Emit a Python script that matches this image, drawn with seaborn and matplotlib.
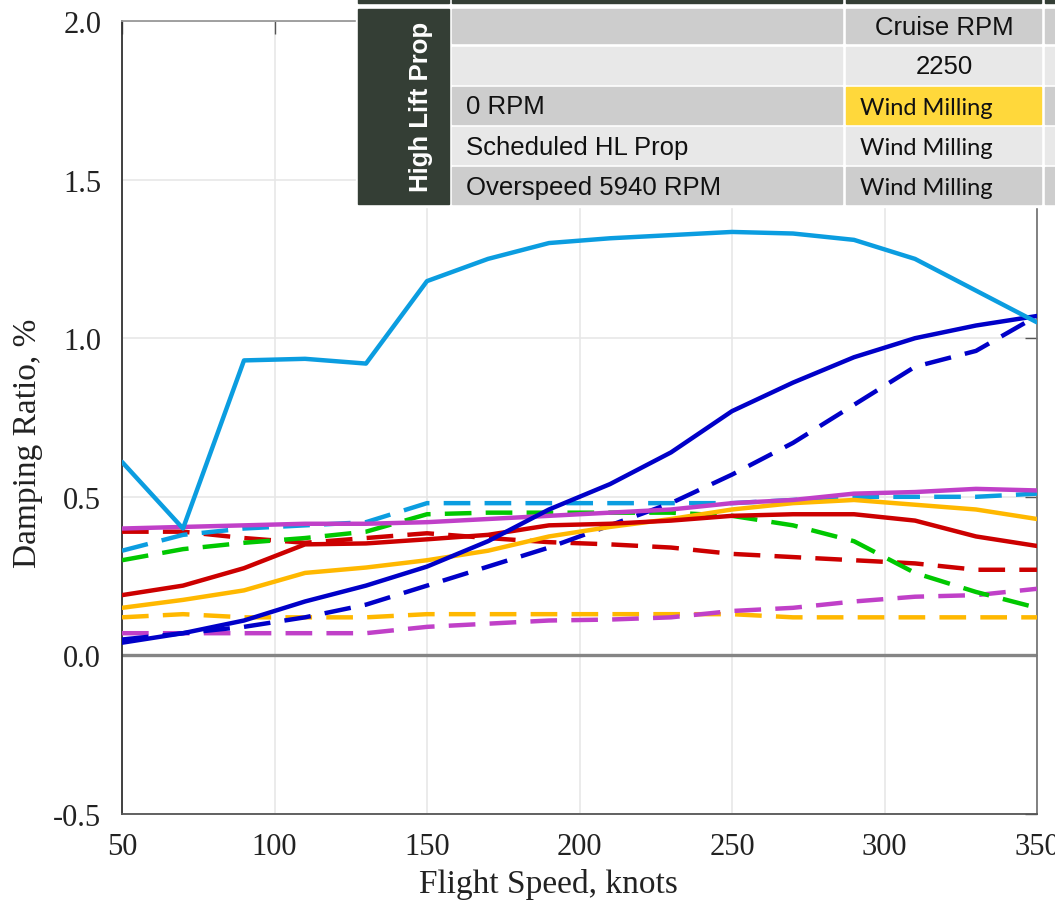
import matplotlib
matplotlib.use("Agg")
import matplotlib.pyplot as plt
from matplotlib.patches import Rectangle
import numpy as np
import pandas as pd
import seaborn as sns

# flight speed, knots
speed = [50, 70, 90, 110, 130, 150, 170, 190, 210, 230, 250, 270, 290, 310, 330, 350]

# damping ratio, %
lightblue_solid = [0.61, 0.40, 0.93, 0.935, 0.92, 1.18, 1.25, 1.30, 1.315, 1.325, 1.335, 1.33, 1.31, 1.25, 1.15, 1.05]
lightblue_dash = [0.33, 0.38, 0.40, 0.41, 0.42, 0.48, 0.48, 0.48, 0.48, 0.48, 0.48, 0.49, 0.50, 0.50, 0.50, 0.51]
darkblue_solid = [0.04, 0.07, 0.11, 0.17, 0.22, 0.28, 0.36, 0.46, 0.54, 0.64, 0.77, 0.86, 0.94, 1.00, 1.04, 1.07]
darkblue_dash = [0.05, 0.07, 0.09, 0.12, 0.16, 0.22, 0.28, 0.34, 0.41, 0.48, 0.57, 0.67, 0.79, 0.91, 0.96, 1.07]
magenta_solid = [0.40, 0.405, 0.41, 0.415, 0.415, 0.42, 0.43, 0.44, 0.45, 0.46, 0.48, 0.49, 0.51, 0.515, 0.525, 0.52]
magenta_dash = [0.07, 0.07, 0.07, 0.07, 0.07, 0.09, 0.10, 0.11, 0.113, 0.12, 0.14, 0.15, 0.17, 0.185, 0.19, 0.21]
green_dash = [0.30, 0.335, 0.355, 0.37, 0.39, 0.445, 0.45, 0.45, 0.45, 0.45, 0.44, 0.41, 0.36, 0.26, 0.20, 0.15]
red_solid = [0.19, 0.22, 0.275, 0.35, 0.353, 0.366, 0.38, 0.41, 0.415, 0.425, 0.44, 0.445, 0.445, 0.425, 0.375, 0.345]
red_dash = [0.39, 0.39, 0.37, 0.355, 0.37, 0.385, 0.37, 0.357, 0.35, 0.34, 0.32, 0.31, 0.30, 0.29, 0.27, 0.27]
orange_solid = [0.15, 0.175, 0.205, 0.26, 0.277, 0.30, 0.33, 0.375, 0.405, 0.43, 0.46, 0.48, 0.49, 0.475, 0.46, 0.43]
orange_dash = [0.12, 0.13, 0.12, 0.12, 0.12, 0.13, 0.13, 0.13, 0.13, 0.13, 0.13, 0.12, 0.12, 0.12, 0.12, 0.12]

series = {
    "orange_dash": orange_dash,
    "magenta_dash": magenta_dash,
    "red_dash": red_dash,
    "green_dash": green_dash,
    "lightblue_dash": lightblue_dash,
    "darkblue_dash": darkblue_dash,
    "orange_solid": orange_solid,
    "red_solid": red_solid,
    "magenta_solid": magenta_solid,
    "darkblue_solid": darkblue_solid,
    "lightblue_solid": lightblue_solid,
}
colors = {
    "lightblue": "#0B9DE0",
    "darkblue": "#0000C8",
    "magenta": "#C040C8",
    "green": "#00C800",
    "red": "#CC0000",
    "orange": "#FFB800",
}

# table overlay text
table_header = "Cruise RPM"
table_rpm = "2250"
table_rows = ["0 RPM", "Scheduled HL Prop", "Overspeed 5940 RPM"]
table_state = ["Wind Milling", "Wind Milling", "Wind Milling"]
table_side = "High Lift Prop"

df = pd.concat([pd.DataFrame({"speed": speed, "zeta": v, "case": k})
                for k, v in series.items()], ignore_index=True)
palette = {k: colors[k.split("_")[0]] for k in series}
dashes = {k: ((6, 3.2) if k.endswith("dash") else "") for k in series}

sns.set_theme(style="whitegrid")
plt.rcParams["font.family"] = ["Liberation Serif", "DejaVu Serif"]
plt.rcParams["axes.unicode_minus"] = False

fig = plt.figure(figsize=(10.55, 9.03), dpi=100)
ax = fig.add_axes([122 / 1055, 88 / 903, 915 / 1055, 793 / 903])

ax.axhline(0, color="#858585", lw=2.4, zorder=1)
sns.lineplot(data=df, x="speed", y="zeta", hue="case", style="case",
             palette=palette, dashes=dashes, linewidth=3.2, legend=False,
             ax=ax, zorder=3)

ax.set_xlim(50, 350)
ax.set_ylim(-0.5, 2.0)
ax.set_xticks(np.arange(50, 351, 50))
ax.set_yticks(np.arange(-0.5, 2.01, 0.5))
ax.yaxis.set_major_formatter(matplotlib.ticker.FormatStrFormatter("%.1f"))
ax.grid(True, color="#e6e6e6", lw=1.1)
ax.tick_params(direction="in", length=9, width=1, color="#555555",
               top=True, right=True, labelsize=22, colors="#222222")
ax.tick_params(axis="x", pad=13)
ax.tick_params(axis="y", pad=15)
for side, c in [("left", "#333333"), ("bottom", "#555555"),
                ("top", "#999999"), ("right", "#777777")]:
    ax.spines[side].set_color(c)
    ax.spines[side].set_linewidth(1.3)
ax.set_xlabel("Flight Speed, knots", fontsize=24, color="#222222")
ax.set_ylabel("Damping Ratio, %", fontsize=24, color="#222222")
# label centres in figure pixels: x label at (548, 885), y label at (28, 443)
ax.xaxis.set_label_coords((548 - 122) / 915, -(885 - 815) / 793)
ax.yaxis.set_label_coords(-(122 - 28) / 915, (815 - 443) / 793)
ax.xaxis.label.set_va("center")
ax.yaxis.label.set_va("center")

# pasted table overlay (figure pixel coordinates)
tab = fig.add_axes([0, 0, 1, 1], zorder=10)
tab.set_xlim(0, 1055)
tab.set_ylim(903, 0)
tab.axis("off")
dark = "#343E35"
tab.add_patch(Rectangle((356, 0), 699, 208, color="white"))
for x0, x1 in [(358, 449), (452, 842), (846, 1041), (1045, 1060)]:
    tab.add_patch(Rectangle((x0, 0), x1 - x0, 4, color=dark))
tab.add_patch(Rectangle((358, 10), 91, 195, color=dark))
row_top = [10, 48, 88, 128, 168]
row_h = [34, 37, 37, 37, 37]
for i, (y0, h) in enumerate(zip(row_top, row_h)):
    shade = "#CDCDCD" if i % 2 == 0 else "#E8E8E8"
    for x0, x1 in [(452, 842), (846, 1041), (1045, 1060)]:
        c = shade
        if i == 2 and x0 == 846:
            c = "#FFD83B"
        tab.add_patch(Rectangle((x0, y0), x1 - x0, h, color=c))

sans = ["Liberation Sans", "DejaVu Sans"]
calib = ["Lato", "DejaVu Sans"]
tab.text(944, row_top[0] + row_h[0] / 2 + 1, table_header, family=sans,
         fontsize=18.5, ha="center", va="center", color="#111111")
tab.text(944, row_top[1] + row_h[1] / 2 + 1, table_rpm, family=sans,
         fontsize=18.5, ha="center", va="center", color="#111111")
for i in range(3):
    yc = row_top[i + 2] + row_h[i + 2] / 2 + 1
    tab.text(466, yc, table_rows[i], family=sans, fontsize=18.5,
             ha="left", va="center", color="#111111")
    tab.text(860, yc + 1, table_state[i], family=calib, fontsize=17,
             ha="left", va="center", color="#111111")
tab.text(421, 107, table_side, family=sans, fontsize=18.5, fontweight="bold",
         rotation=90, ha="center", va="center", color="white")

fig.savefig("out.png", dpi=100)
